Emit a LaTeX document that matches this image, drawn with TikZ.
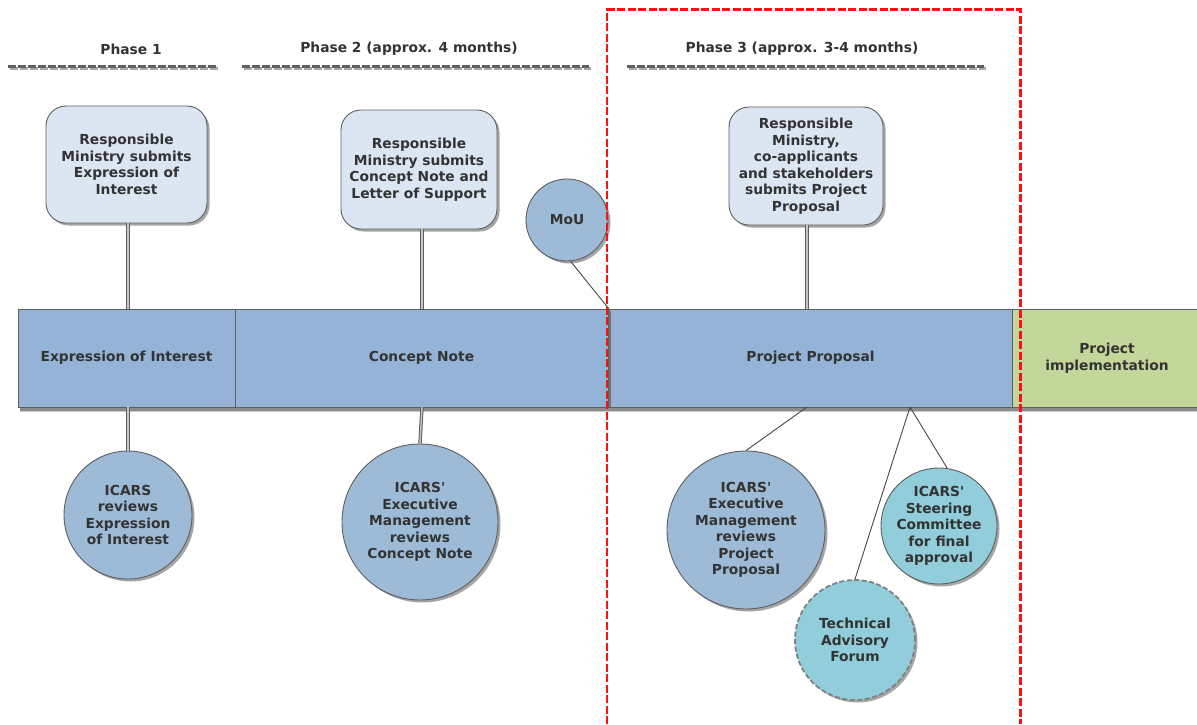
\documentclass[tikz,border=0pt]{standalone}
\usepackage{fontspec}
\setmainfont{DejaVu Sans}[Ligatures=TeXOff]
\usetikzlibrary{shadows}
\definecolor{txt}{HTML}{333333}
\definecolor{barblue}{HTML}{95B3D7}
\definecolor{boxfill}{HTML}{DCE6F2}
\definecolor{cblue}{HTML}{9DBBD7}
\definecolor{cteal}{HTML}{92CDDC}
\definecolor{pgreen}{HTML}{C4D79B}
\definecolor{edge}{HTML}{5E5E5E}
\definecolor{fred}{HTML}{FF1010}
\tikzset{
  lbl/.style={font=\fontsize{13.8}{16.5}\selectfont\bfseries, text=txt, align=center},
  seg/.style={lbl, rectangle, draw=edge, line width=0.8pt, fill=barblue, minimum height=98pt, inner sep=0pt, outer sep=0pt},
  topbox/.style={lbl, rectangle, rounded corners=20pt, draw=edge, line width=0.9pt, fill=boxfill, inner sep=0pt,
     drop shadow={shadow xshift=2.5pt, shadow yshift=-2.5pt, opacity=0.7}},
  circ/.style={lbl, circle, draw=edge, line width=0.9pt, fill=cblue, inner sep=0pt,
     drop shadow={shadow xshift=2.5pt, shadow yshift=-2.5pt, opacity=0.7}},
  stem/.style={draw=edge, line width=3.4pt, postaction={draw=gray!45, line width=1.4pt}},
  thinline/.style={draw=txt!90, line width=0.9pt},
  hdr/.style={draw=gray!75!black, line width=3pt, dash pattern=on 8pt off 2pt},
  hdrsh/.style={draw=black!35, line width=2.6pt, dash pattern=on 8pt off 2pt},
  redbox/.style={draw=fred, line width=2.5pt, dash pattern=on 8pt off 2.5pt}
}
\begin{document}
\begin{tikzpicture}[x=1pt,y=-1pt]
\useasboundingbox (0,0) rectangle (1197,724);
\fill[white] (0,0) rectangle (1197,724);

% phase headers
\node[lbl] (ph1) at (131,49) {Phase 1};
\node[lbl] (ph2) at (409,49) {Phase 2 (approx. 4 months)};
\node[lbl] (ph3) at (802,49) {Phase 3 (approx. 3-4 months)};
\draw[hdrsh] (9.5,68.5) -- (218.5,68.5);
\draw[hdr] (8,66.5) -- (217,66.5);
\draw[hdrsh] (243.5,68.5) -- (590.5,68.5);
\draw[hdr] (242,66.5) -- (589,66.5);
\draw[hdrsh] (628.5,68.5) -- (985.5,68.5);
\draw[hdr] (627,66.5) -- (984,66.5);

% timeline bar shadow
\fill[black!45] (20,407) rectangle (1197,410.5);
\fill[black!20] (20,410.5) rectangle (1197,412);

% timeline segments
\node[seg, minimum width=217pt] (eoi) at (126.5,358) {Expression of Interest};
\node[seg, minimum width=373pt] (cn) at (421.5,358) {Concept Note};
\node[seg, minimum width=403pt] (pp) at (810.5,358) {Project Proposal};
\node[seg, minimum width=190pt, fill=pgreen] (pi) at (1107,358) {Project\\implementation};
\fill[black!55] (608.5,311) rectangle (611,406.5);

% top boxes
\node[topbox, minimum width=161pt, minimum height=117pt] (b1) at (126.5,164.5)
  {Responsible\\Ministry submits\\Expression of\\Interest};
\node[topbox, minimum width=156pt, minimum height=119pt] (b2) at (419,169.5)
  {Responsible\\Ministry submits\\Concept Note and\\Letter of Support};
\node[topbox, minimum width=154pt, minimum height=118pt] (b3) at (806,166)
  {Responsible\\Ministry,\\co-applicants\\and stakeholders\\submits Project\\Proposal};

% MoU
\node[circ, minimum size=82pt] (mou) at (567,220) {MoU};

% bottom circles
\node[circ, minimum size=128pt] (c1) at (128,515) {ICARS\\reviews\\Expression\\of Interest};
\node[circ, minimum size=156pt] (c2) at (420,522) {ICARS'\\Executive\\Management\\reviews\\Concept Note};
\node[circ, minimum size=158pt] (c3) at (746,530) {ICARS'\\Executive\\Management\\reviews\\Project\\Proposal};
\node[circ, minimum size=116pt, fill=cteal] (sc) at (939,526) {ICARS'\\Steering\\Committee\\for final\\approval};
\node[circ, minimum size=120pt, fill=cteal, draw=gray, line width=1.8pt, dash pattern=on 5pt off 2.5pt] (taf) at (855,640) {Technical\\Advisory\\Forum};

% stems
\draw[stem] (b1.south -| 128,0) -- (128,0 |- eoi.north);
\draw[stem] (b2.south -| 422,0) -- (422,0 |- cn.north);
\draw[stem] (b3.south -| 807,0) -- (807,0 |- pp.north);
\draw[stem] (128,0 |- eoi.south) -- (c1.north);
\draw[stem] (422,0 |- cn.south) -- (c2.north);

% thin connectors
\coordinate (ps1) at (807,407);
\coordinate (ps2) at (910,407);
\draw[thinline] (mou.-85) -- (pp.north west);
\draw[thinline] (ps1) -- (c3.north);
\draw[thinline] (ps2) -- (taf.north);
\draw[thinline] (ps2) -- (sc.82);

% red dashed frame
\draw[redbox] (607,724) -- (607,9.5) -- (1020.5,9.5) -- (1020.5,724);
\end{tikzpicture}
\end{document}
